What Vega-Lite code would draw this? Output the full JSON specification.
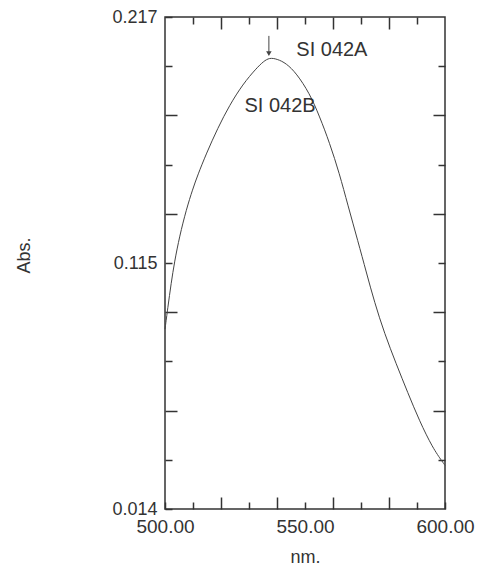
{
  "$schema": "https://vega.github.io/schema/vega-lite/v6.json",
  "width": 280,
  "height": 492,
  "autosize": {"type": "none"},
  "padding": {"left": 165, "top": 17, "right": 33, "bottom": 56},
  "background": "white",
  "config": {
    "view": {"stroke": "#333", "strokeWidth": 1.5},
    "axis": {
      "domain": false,
      "grid": false,
      "tickColor": "#333",
      "tickWidth": 1.5,
      "labelFont": "Liberation Sans",
      "labelColor": "#333",
      "titleFont": "Liberation Sans",
      "titleColor": "#333",
      "titleFontWeight": "normal",
      "labelOverlap": false,
      "labelFlush": false
    }
  },
  "resolve": {"axis": {"x": "independent", "y": "independent"}},
  "layer": [
    {
      "data": {"values": [
        {"nm": 500.0, "abs": 0.0882},
        {"nm": 501.0, "abs": 0.0970},
        {"nm": 502.2, "abs": 0.1072},
        {"nm": 503.4, "abs": 0.1160},
        {"nm": 505.2, "abs": 0.1265},
        {"nm": 507.6, "abs": 0.1375},
        {"nm": 509.9, "abs": 0.1460},
        {"nm": 511.7, "abs": 0.1518},
        {"nm": 514.7, "abs": 0.1605},
        {"nm": 518.9, "abs": 0.1713},
        {"nm": 523.0, "abs": 0.1805},
        {"nm": 527.8, "abs": 0.1893},
        {"nm": 532.6, "abs": 0.1958},
        {"nm": 535.2, "abs": 0.1987},
        {"nm": 537.3, "abs": 0.2002},
        {"nm": 540.0, "abs": 0.1997},
        {"nm": 543.3, "abs": 0.1979},
        {"nm": 546.9, "abs": 0.1938},
        {"nm": 551.6, "abs": 0.1856},
        {"nm": 555.2, "abs": 0.1760},
        {"nm": 558.8, "abs": 0.1650},
        {"nm": 562.3, "abs": 0.1524},
        {"nm": 565.3, "abs": 0.1394},
        {"nm": 568.9, "abs": 0.1245},
        {"nm": 571.9, "abs": 0.1117},
        {"nm": 574.8, "abs": 0.0994},
        {"nm": 578.4, "abs": 0.0864},
        {"nm": 582.6, "abs": 0.0738},
        {"nm": 586.7, "abs": 0.0620},
        {"nm": 590.9, "abs": 0.0503},
        {"nm": 595.6, "abs": 0.0392},
        {"nm": 599.2, "abs": 0.0333},
        {"nm": 600.0, "abs": 0.0320}
      ]},
      "mark": {"type": "line", "color": "#444", "strokeWidth": 1, "interpolate": "basis"},
      "encoding": {
        "x": {
          "field": "nm", "type": "quantitative",
          "scale": {"domain": [500, 600], "nice": false, "zero": false},
          "axis": {
            "orient": "bottom",
            "values": [500, 510, 520, 530, 540, 550, 560, 570, 580, 590, 600],
            "format": ".2f",
            "labelExpr": "indexof([500, 550, 600], datum.value) >= 0 ? datum.label : ''",
            "labelFontSize": 19,
            "labelPadding": 15,
            "tickSize": {"condition": {"test": "indexof([520, 540, 560, 580], datum.value) >= 0", "value": -12}, "value": -7},
            "title": "nm.",
            "titleFontSize": 18,
            "titleBaseline": "alphabetic",
            "titleY": 53
          }
        },
        "y": {
          "field": "abs", "type": "quantitative",
          "scale": {"domain": [0.014, 0.217], "nice": false, "zero": false},
          "axis": {
            "orient": "left",
            "values": [0.014, 0.0343, 0.0546, 0.0749, 0.0952, 0.1155, 0.1358, 0.1561, 0.1764, 0.1967, 0.217],
            "labelExpr": "datum.value == 0.217 ? '0.217' : datum.value == 0.1155 ? '0.115' : datum.value == 0.014 ? '0.014' : ''",
            "labelFontSize": 18,
            "labelPadding": 15,
            "labelBaseline": "middle",
            "tickSize": {"condition": {"test": "indexof([0.0546, 0.0952, 0.1358, 0.1764], datum.value) >= 0", "value": -12}, "value": -7},
            "title": "Abs.",
            "titleFontSize": 18,
            "titleBaseline": "alphabetic",
            "titleX": -136,
            "titleY": 238,
            "titleAlign": "center"
          }
        }
      }
    },
    {
      "data": {"values": [
        {"nm": 559.6, "abs": 0.2034, "label": "SI 042A"},
        {"nm": 541.1, "abs": 0.1804, "label": "SI 042B"}
      ]},
      "mark": {"type": "text", "font": "Liberation Sans", "fontSize": 20, "color": "#333", "align": "center", "baseline": "middle"},
      "encoding": {
        "x": {
          "field": "nm", "type": "quantitative",
          "scale": {"domain": [500, 600], "nice": false, "zero": false},
          "axis": {
            "orient": "top",
            "values": [510, 520, 530, 540, 550, 560, 570, 580, 590],
            "labels": false,
            "title": null,
            "tickSize": {"condition": {"test": "indexof([520, 540, 560, 580], datum.value) >= 0", "value": -12}, "value": -7}
          }
        },
        "y": {
          "field": "abs", "type": "quantitative",
          "scale": {"domain": [0.014, 0.217], "nice": false, "zero": false},
          "axis": {
            "orient": "right",
            "values": [0.0343, 0.0546, 0.0749, 0.0952, 0.1155, 0.1358, 0.1561, 0.1764, 0.1967],
            "labels": false,
            "title": null,
            "tickSize": {"condition": {"test": "indexof([0.0546, 0.0952, 0.1358, 0.1764], datum.value) >= 0", "value": -12}, "value": -7}
          }
        },
        "text": {"field": "label", "type": "nominal"}
      }
    },
    {
      "data": {"values": [{"nm": 537.1, "top": 0.2092, "bottom": 0.2016}]},
      "mark": {"type": "rule", "color": "#444", "strokeWidth": 1},
      "encoding": {
        "x": {"field": "nm", "type": "quantitative", "scale": {"domain": [500, 600], "nice": false, "zero": false}, "axis": null},
        "y": {"field": "top", "type": "quantitative", "scale": {"domain": [0.014, 0.217], "nice": false, "zero": false}, "axis": null},
        "y2": {"field": "bottom"}
      }
    },
    {
      "data": {"values": [{"nm": 537.1, "abs": 0.2019}]},
      "mark": {"type": "point", "shape": "triangle-down", "filled": true, "color": "#444", "size": 30, "opacity": 1},
      "encoding": {
        "x": {"field": "nm", "type": "quantitative", "scale": {"domain": [500, 600], "nice": false, "zero": false}, "axis": null},
        "y": {"field": "abs", "type": "quantitative", "scale": {"domain": [0.014, 0.217], "nice": false, "zero": false}, "axis": null}
      }
    }
  ]
}
